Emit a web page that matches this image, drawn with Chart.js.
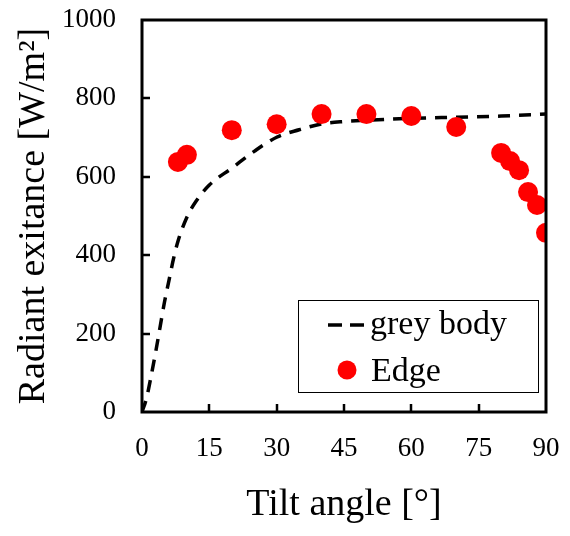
<!DOCTYPE html>
<html>
<head>
<meta charset="utf-8">
<script src="https://cdn.jsdelivr.net/npm/chart.js@4/dist/chart.umd.min.js"></script>
<style>
  html, body { margin: 0; padding: 0; background: #fff; }
  #wrap { width: 570px; height: 536px; }
</style>
</head>
<body>
<div id="wrap"><canvas id="myChart" width="570" height="536"></canvas></div>
<script>
const greyAngles = [0, 1, 2, 3, 4, 5, 6, 7, 8, 10, 12, 15, 20, 25, 30, 35, 40, 45, 50, 60, 70, 80, 90];
const greyValues = [0, 35, 90, 150, 215, 280, 335, 390, 435, 497, 537, 579, 622, 665, 701, 720, 735, 741, 744, 749, 752, 755, 760];

const edgeAngles = [8, 10, 20, 30, 40, 50, 60, 70, 80, 82, 84, 86, 88, 90];
const edgeValues = [638, 656, 719, 734, 760, 760, 755, 727, 661, 640, 617, 561, 528, 457];

const xTicks = [0, 15, 30, 45, 60, 75, 90];
const yTicks = [0, 200, 400, 600, 800, 1000];

const serif = "'Liberation Serif', 'Times New Roman', serif";

function toPoints(xs, ys) {
    return xs.map((x, i) => ({ x: x, y: ys[i] }));
}

function noPad(s) {
    s.paddingTop = 0;
    s.paddingBottom = 0;
    s.paddingLeft = 0;
    s.paddingRight = 0;
}

// box round the plot area, with inward tick marks
const frame = {
    id: 'frame',
    afterDatasetsDraw(chart) {
        const a = chart.chartArea;
        const ctx = chart.ctx;
        const xs = chart.scales.x, ys = chart.scales.y;
        ctx.save();
        ctx.strokeStyle = '#000';
        ctx.lineWidth = 2.5;
        ctx.beginPath();
        xTicks.slice(1, -1).forEach(v => {
            const px = Math.round(xs.getPixelForValue(v));
            ctx.moveTo(px, a.bottom);
            ctx.lineTo(px, a.bottom - 8);
        });
        yTicks.slice(1, -1).forEach(v => {
            const py = Math.round(ys.getPixelForValue(v));
            ctx.moveTo(a.left, py);
            ctx.lineTo(a.left + 8, py);
        });
        ctx.stroke();
        ctx.lineWidth = 3;
        ctx.strokeRect(a.left, a.top, a.right - a.left, a.bottom - a.top);
        ctx.restore();
    }
};

// legend drawn inside the plot, lower right
const boxLegend = {
    id: 'boxLegend',
    afterDraw(chart) {
        const ctx = chart.ctx;
        const ds = chart.data.datasets;
        const x0 = 298, y0 = 300, w = 240, h = 92;
        ctx.save();
        ctx.fillStyle = '#fff';
        ctx.fillRect(x0, y0, w, h);
        ctx.strokeStyle = '#000';
        ctx.lineWidth = 1;
        ctx.strokeRect(x0 + 0.5, y0 + 0.5, w, h);

        // grey body line sample
        ctx.strokeStyle = '#000';
        ctx.lineWidth = 3.5;
        ctx.setLineDash([14, 8]);
        ctx.beginPath();
        ctx.moveTo(328, 325);
        ctx.lineTo(369, 325);
        ctx.stroke();
        ctx.setLineDash([]);

        // edge marker sample
        ctx.fillStyle = '#ff0000';
        ctx.beginPath();
        ctx.arc(347, 370, 9.5, 0, Math.PI * 2);
        ctx.fill();

        ctx.fillStyle = '#000';
        ctx.font = '34px ' + serif;
        ctx.textBaseline = 'alphabetic';
        ctx.textAlign = 'left';
        ctx.fillText(ds[0].label, 370, 334);
        ctx.fillText(ds[1].label, 371, 381);
        ctx.restore();
    }
};

drawChart();

function drawChart()
{
    const ctx = document.getElementById('myChart').getContext('2d');

    const myChart = new Chart(ctx, {
        type: 'scatter',
        data: {
            datasets: [{
                label: 'grey body',
                type: 'line',
                data: toPoints(greyAngles, greyValues),
                borderColor: '#000',
                borderWidth: 3.5,
                borderDash: [12, 9],
                pointRadius: 0,
                fill: false,
                cubicInterpolationMode: 'monotone',
                order: 2
            }, {
                label: 'Edge',
                data: toPoints(edgeAngles, edgeValues),
                backgroundColor: '#ff0000',
                borderColor: '#ff0000',
                borderWidth: 0,
                pointRadius: 10,
                order: 1
            }]
        },
        plugins: [frame, boxLegend],
        options: {
            responsive: false,
            animation: false,
            layout: { padding: { top: 20, right: 24, left: 0, bottom: 0 } },
            plugins: {
                legend: { display: false },
                tooltip: { enabled: false }
            },
            scales: {
                x: {
                    type: 'linear',
                    min: 0,
                    max: 90,
                    afterBuildTicks: (s) => { s.ticks = xTicks.map(v => ({ value: v })); },
                    afterFit: (s) => { s.height = 124; noPad(s); },
                    border: { display: false },
                    grid: { display: false, drawTicks: false },
                    ticks: { color: '#000', padding: 21, maxRotation: 0, font: { family: serif, size: 27 }, callback: (v) => String(v) },
                    title: { display: true, text: 'Tilt angle [°]', color: '#000', padding: { top: 0, bottom: 8 }, font: { family: serif, size: 38 } }
                },
                y: {
                    type: 'linear',
                    min: 0,
                    max: 1000,
                    afterBuildTicks: (s) => { s.ticks = yTicks.map(v => ({ value: v })); },
                    afterFit: (s) => { s.width = 142; noPad(s); },
                    border: { display: false },
                    grid: { display: false, drawTicks: false },
                    ticks: { color: '#000', padding: 26, font: { family: serif, size: 27 }, callback: (v) => String(v) },
                    title: { display: true, text: 'Radiant exitance [W/m²]', color: '#000', padding: { top: 11, bottom: 0 }, font: { family: serif, size: 38 } }
                }
            }
        }
    });
}
</script>
</body>
</html>
